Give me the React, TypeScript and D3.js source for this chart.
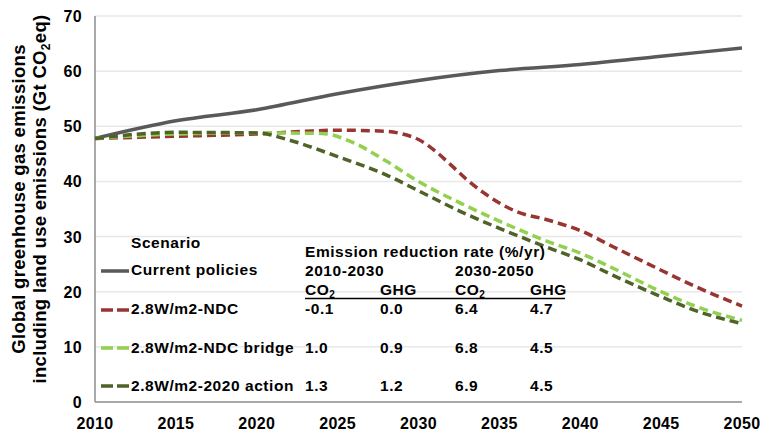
import React from 'react';
import * as d3 from 'd3';

// emissions, Gt CO2eq
const currentYears = [2010, 2015, 2020, 2025, 2030, 2035, 2040, 2045, 2050];
const currentPolicies = [47.8, 51.0, 53.0, 55.9, 58.3, 60.1, 61.2, 62.7, 64.2];

const ndcYears = [2010, 2015, 2020, 2023, 2025, 2028, 2029, 2030, 2031, 2032, 2033, 2034, 2035, 2036, 2038, 2040, 2042, 2045, 2047, 2050];
const ndc = [47.8, 48.2, 48.6, 49.1, 49.3, 49.1, 48.6, 47.6, 45.6, 43.0, 40.3, 38.0, 36.1, 34.6, 33.0, 31.1, 28.2, 23.9, 21.1, 17.4];

const bridgeYears = [2010, 2015, 2020, 2024, 2026, 2028, 2030, 2033, 2035, 2038, 2040, 2042, 2045, 2047, 2050];
const ndcBridge = [47.8, 48.6, 48.8, 48.7, 47.0, 43.7, 40.0, 35.5, 32.8, 29.1, 27.0, 24.3, 20.0, 17.5, 14.8];

const actionYears = [2010, 2015, 2020, 2022, 2025, 2028, 2030, 2033, 2035, 2038, 2040, 2042, 2045, 2047, 2050];
const action2020 = [47.8, 48.9, 48.8, 47.5, 44.5, 41.2, 38.3, 34.0, 31.5, 28.0, 25.8, 23.0, 19.1, 16.7, 14.2];

const xTicks = [2010, 2015, 2020, 2025, 2030, 2035, 2040, 2045, 2050];
const yTicks = [0, 10, 20, 30, 40, 50, 60, 70];

const scenarioNames = ['Current policies', '2.8W/m2-NDC', '2.8W/m2-NDC bridge', '2.8W/m2-2020 action'];
const periods = ['2010-2030', '2030-2050'];
const rateRows = [
  ['-0.1', '0.0', '6.4', '4.7'],
  ['1.0', '0.9', '6.8', '4.5'],
  ['1.3', '1.2', '6.9', '4.5'],
];

const colors = ['#595959', '#983533', '#92d050', '#4f6228'];

const FONT = '"Liberation Sans", Arial, Helvetica, sans-serif';

export default function App() {
  const width = 761;
  const height = 434;
  const x = d3.scaleLinear().domain([2010, 2050]).range([95, 742]);
  const y = d3.scaleLinear().domain([0, 70]).range([402, 16]);

  const line = d3.line<[number, number]>()
    .x(d => x(d[0]))
    .y(d => y(d[1]))
    .curve(d3.curveMonotoneX);

  const series = [
    { years: currentYears, vals: currentPolicies, dash: null },
    { years: ndcYears, vals: ndc, dash: '9,5' },
    { years: bridgeYears, vals: ndcBridge, dash: '9,5' },
    { years: actionYears, vals: action2020, dash: '9,5' },
  ];

  const legendY = [271, 310, 348, 386];
  const textY = [275, 314, 353, 391];
  const colX = [305, 380, 455, 530];
  const fs = 15.5;
  const ls = 0.55;

  return (
    <svg width={width} height={height} style={{ position: 'absolute', left: 0, top: 0 }} fontFamily={FONT} fontWeight="bold">
      {yTicks.filter(t => t > 0).map(t => (
        <line key={t} x1={x(2010)} x2={x(2050)} y1={y(t)} y2={y(t)} stroke="#e8e8e8" strokeWidth={1.5} />
      ))}
      <line x1={x(2010)} x2={x(2010)} y1={y(70)} y2={y(0)} stroke="#8c8c8c" strokeWidth={1.5} />
      <line x1={x(2010)} x2={x(2050)} y1={y(0)} y2={y(0)} stroke="#8c8c8c" strokeWidth={1.5} />

      {yTicks.map(t => (
        <text key={t} x={82} y={y(t) + 6} textAnchor="end" fontSize={16} letterSpacing={0.3}>{t}</text>
      ))}
      {xTicks.map(t => (
        <text key={t} x={x(t)} y={429} textAnchor="middle" fontSize={16} letterSpacing={0.3}>{t}</text>
      ))}

      <g transform="translate(25,199) rotate(-90)" fontSize={18.5} letterSpacing={0.3}>
        <text x={0} y={0} textAnchor="middle">Global greenhouse gas emissions</text>
        <text x={0} y={21} textAnchor="middle">
          including land use emissions (Gt CO<tspan fontSize={12} dy={4}>2</tspan><tspan dy={-4}>eq)</tspan>
        </text>
      </g>

      {series.map((s, i) => (
        <path key={i}
          d={line(s.years.map((yr, j) => [yr, s.vals[j]] as [number, number])) || ''}
          fill="none" stroke={colors[i]} strokeWidth={3.5}
          strokeDasharray={s.dash || undefined} />
      ))}

      <g fontSize={fs} letterSpacing={ls}>
        <text x={131} y={248}>Scenario</text>
        {scenarioNames.map((n, i) => (
          <g key={n}>
            <line x1={101} x2={129} y1={legendY[i]} y2={legendY[i]} stroke={colors[i]} strokeWidth={3.5}
              strokeDasharray={i === 0 ? undefined : '12,4'} />
            <text x={131} y={textY[i]}>{n}</text>
          </g>
        ))}

        <text x={305} y={257}>Emission reduction rate (%/yr)</text>
        {periods.map((p, i) => (
          <text key={p} x={colX[i * 2]} y={276}>{p}</text>
        ))}
        {colX.map((cx, i) => (
          i % 2 === 0 ? (
            <text key={i} x={cx} y={295}>CO<tspan fontSize={10} dy={3}>2</tspan></text>
          ) : (
            <text key={i} x={cx} y={295}>GHG</text>
          )
        ))}
        {rateRows.map((row, r) => row.map((v, c) => (
          <text key={`${r}-${c}`} x={colX[c]} y={textY[r + 1]}>{v}</text>
        )))}
      </g>
      <line x1={305} x2={565} y1={298.5} y2={298.5} stroke="#000" strokeWidth={1.6} />
    </svg>
  );
}
